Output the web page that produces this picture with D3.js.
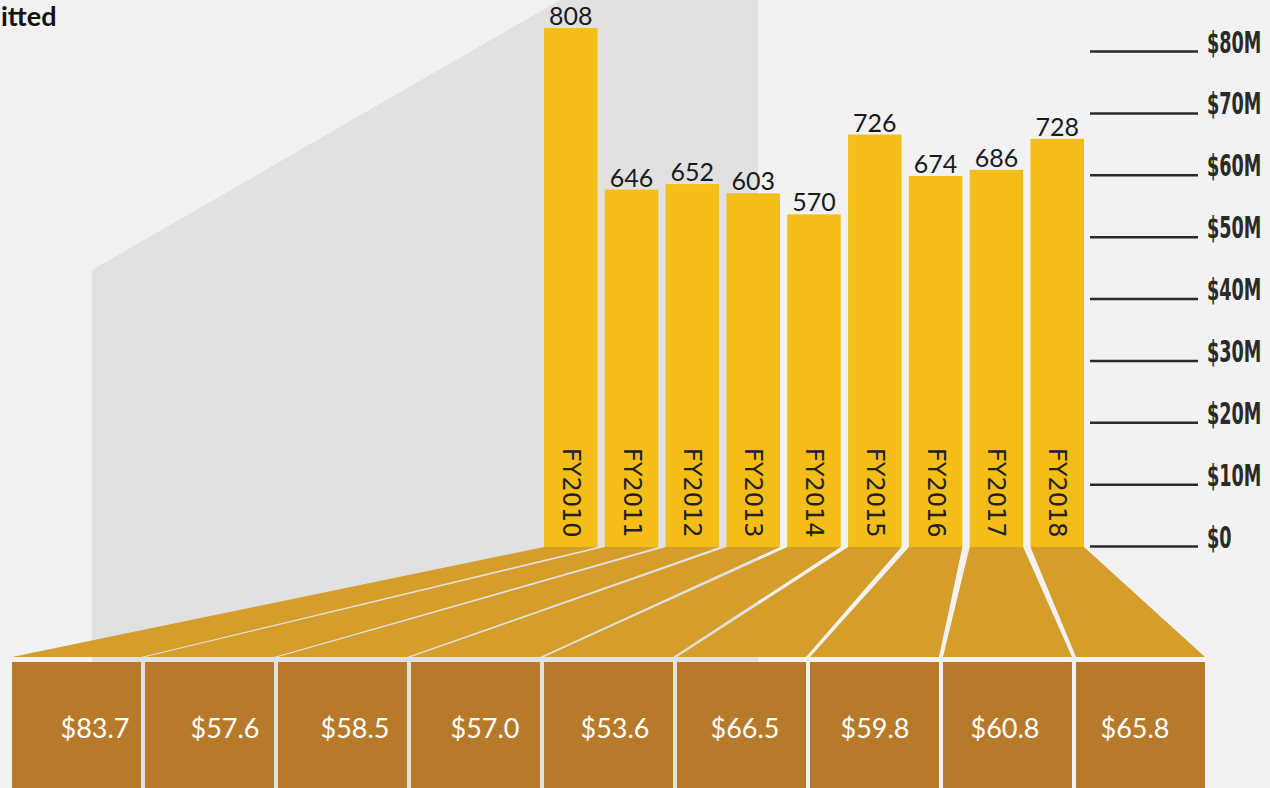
<!DOCTYPE html>
<html>
<head>
<meta charset="utf-8">
<script src="https://cdn.jsdelivr.net/npm/d3@7"></script>
<style>
    body { margin: 0; background: #f3f2f3; }
    svg { display: block; }
</style>
</head>
<body>
<div id="chart"></div>
<script>
const years = ["FY2010", "FY2011", "FY2012", "FY2013", "FY2014", "FY2015", "FY2016", "FY2017", "FY2018"];
const funding = [83.7, 57.6, 58.5, 57.0, 53.6, 66.5, 59.8, 60.8, 65.8]; // $M, bar heights
const counts = [808, 646, 652, 603, 570, 726, 674, 686, 728];
const yTicks = [0, 10, 20, 30, 40, 50, 60, 70, 80];

const data = years.map((y, i) => ({ year: y, funding: funding[i], count: counts[i] }));

const width = 1270, height = 788;
const floorTop = 547, floorBottom = 657, boxTop = 662;

const svg = d3.select("#chart").append("svg")
    .attr("width", width).attr("height", height);

svg.append("rect").attr("width", width).attr("height", height).attr("fill", "#f3f2f3");

// grey backdrop panel
svg.append("path")
    .attr("d", "M92,270 L560,0 L758,0 L758,788 L92,788 Z")
    .attr("fill", "#e2e1e1");

// title tail, as much of it as the picture shows
svg.append("text")
    .attr("x", 1).attr("y", 26)
    .attr("font-family", "Lato, sans-serif")
    .attr("font-weight", "bold")
    .attr("font-size", 27)
    .attr("fill", "#111")
    .text("itted");

const y = d3.scaleLinear().domain([0, 80]).range([floorTop - 1, 51]);

const x = d3.scaleBand().domain(years).range([544, 1084]).paddingInner(0.12);
const xBox = d3.scaleBand().domain(years).range([12, 1205]).paddingInner(0.03);
const xLabel = d3.scaleBand().domain(years).range([30, 1200]);

// floor trapezoids
svg.append("g").selectAll("path")
    .data(data)
    .enter().append("path")
    .attr("d", d => {
        const x0 = x(d.year), x1 = x0 + x.bandwidth();
        const b0 = xBox(d.year), b1 = b0 + xBox.bandwidth();
        return `M${x0},${floorTop} L${x1},${floorTop} L${b1},${floorBottom} L${b0},${floorBottom} Z`;
    })
    .attr("fill", "#d59e2a");

// boxes
svg.append("g").selectAll("rect")
    .data(data)
    .enter().append("rect")
    .attr("x", d => xBox(d.year))
    .attr("y", boxTop)
    .attr("width", xBox.bandwidth())
    .attr("height", height - boxTop)
    .attr("fill", "#b77a2b");

svg.append("g").selectAll("text")
    .data(data)
    .enter().append("text")
    .attr("x", d => xLabel(d.year) + xLabel.bandwidth() / 2)
    .attr("y", 738)
    .attr("text-anchor", "middle")
    .attr("font-family", "Lato, sans-serif")
    .attr("font-size", 27)
    .attr("fill", "#fff")
    .text(d => "$" + d.funding.toFixed(1));

// bars
svg.append("g").selectAll("rect")
    .data(data)
    .enter().append("rect")
    .attr("x", d => x(d.year))
    .attr("y", d => y(d.funding))
    .attr("width", x.bandwidth())
    .attr("height", d => floorTop - y(d.funding))
    .attr("fill", "#f4bd18");

svg.append("g").selectAll("text")
    .data(data)
    .enter().append("text")
    .attr("x", d => x(d.year) + x.bandwidth() / 2)
    .attr("y", d => y(d.funding) - 3)
    .attr("text-anchor", "middle")
    .attr("font-family", "Lato, sans-serif")
    .attr("font-size", 25)
    .attr("fill", "#1a1a1a")
    .text(d => d.count);

svg.append("g").selectAll("text")
    .data(data)
    .enter().append("text")
    .attr("transform", d => `translate(${x(d.year) + x.bandwidth() / 2},448) rotate(90)`)
    .attr("dominant-baseline", "central")
    .attr("font-family", "DejaVu Sans, sans-serif")
    .attr("font-size", 24)
    .attr("fill", "#222")
    .text(d => d.year);

// right axis
const axis = svg.append("g")
    .attr("transform", "translate(1090,0)")
    .call(d3.axisRight(y).tickValues(yTicks).tickSize(108).tickPadding(10)
        .tickFormat(d => d === 0 ? "$0" : `$${d}M`));

axis.select(".domain").remove();
axis.selectAll(".tick line").attr("stroke", "#2a2a2a").attr("stroke-width", 2.5);
// squeeze the labels horizontally to get the condensed poster look
axis.selectAll(".tick text")
    .attr("x", 0)
    .attr("dy", "0")
    .attr("transform", "translate(117,1) scale(0.57,1)")
    .attr("fill", "#2a2a2a")
    .attr("font-family", "'DejaVu Sans', sans-serif")
    .attr("font-weight", "bold")
    .attr("font-size", 31);
</script>
</body>
</html>
